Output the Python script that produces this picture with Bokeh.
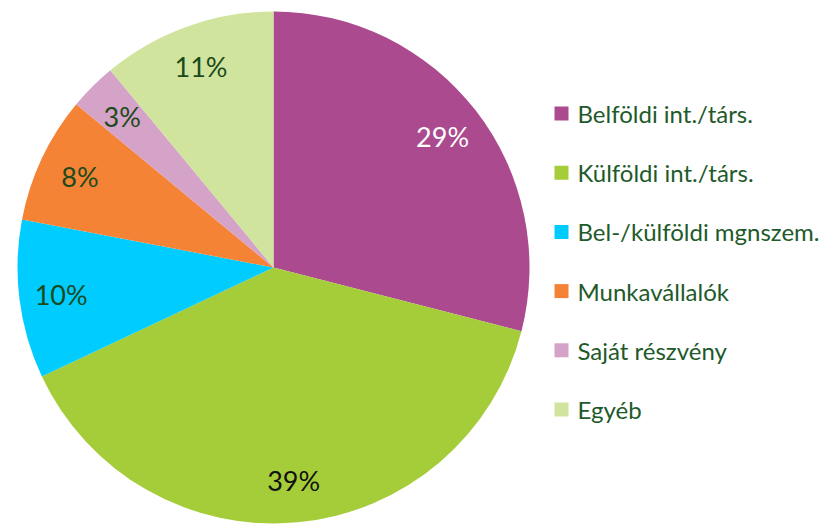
import math
from bokeh.plotting import figure
from bokeh.models import ColumnDataSource, Range1d
from bokeh.core.properties import value
from bokeh.embed import file_html
from bokeh.resources import INLINE

categories = ["Belföldi int./társ.", "Külföldi int./társ.", "Bel-/külföldi mgnszem.",
              "Munkavállalók", "Saját részvény", "Egyéb"]
shares = [29, 39, 10, 8, 3, 11]
labels = ["29%", "39%", "10%", "8%", "3%", "11%"]
colors = ["#AB4A8E", "#A5CC39", "#00CCFF", "#F58336", "#D5A2C8", "#D1E49E"]
label_colors = ["#FFFFFF", "#111111", "#1B4A1B", "#1B4A1B", "#1B4A1B", "#1B4A1B"]

W, H = 827, 526
cx, cy, R = 273, H - 267, 256
label_r = 214
FONT = "Lato"

total = sum(shares)
starts, ends, lx, ly = [], [], [], []
cum = 0.0
for s in shares:
    a0 = math.pi / 2 - 2 * math.pi * cum / total
    cum += s
    a1 = math.pi / 2 - 2 * math.pi * cum / total
    starts.append(a0)
    ends.append(a1)
    mid = (a0 + a1) / 2
    lx.append(cx + label_r * math.cos(mid))
    ly.append(cy + label_r * math.sin(mid))

src = ColumnDataSource(dict(start=starts, end=ends, color=colors, lx=lx, ly=ly,
                            label=labels, lcolor=label_colors))

p = figure(width=W, height=H, output_backend="svg", toolbar_location=None,
           x_range=Range1d(0, W), y_range=Range1d(0, H), min_border=0)
p.axis.visible = False
p.grid.visible = False
p.outline_line_color = None
p.background_fill_color = "white"
p.border_fill_color = "white"

p.wedge(x=cx, y=cy, radius=R, start_angle="start", end_angle="end", direction="clock",
        fill_color="color", line_color=None, source=src)
p.text(x="lx", y="ly", text="label", text_color="lcolor", text_align="center",
       text_baseline="middle", text_font=value(FONT), text_font_size="27px", source=src)

# legend
leg_y0 = H - 113
leg_dy = 59.2
leg_sq_x = 561
ys = [leg_y0 - i * leg_dy for i in range(len(categories))]
lsrc = ColumnDataSource(dict(x=[leg_sq_x] * len(categories), y=ys, color=colors,
                             tx=[leg_sq_x + 16] * len(categories), text=categories))
p.rect(x="x", y="y", width=14, height=14, fill_color="color", line_color=None, source=lsrc)
p.text(x="tx", y="y", text="text", text_color="#1E5A2A", text_align="left",
       text_baseline="middle", text_font=value(FONT), text_font_size="24px", source=lsrc)

open("out.html", "w").write(file_html(p, INLINE))
